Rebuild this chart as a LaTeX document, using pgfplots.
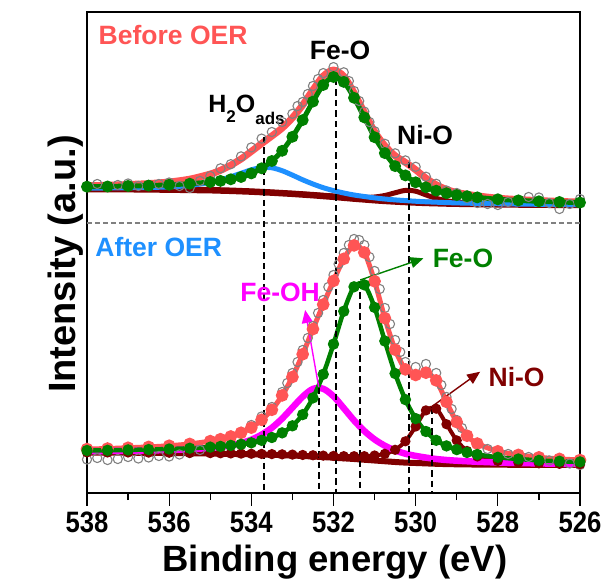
\documentclass[border=0pt]{standalone}
\usepackage{fontspec}
\setmainfont{Liberation Sans}
\usepackage{graphicx}
\usepackage{pgfplots}
\pgfplotsset{compat=1.18}
\usepackage{pgfplotstable}
\usetikzlibrary{arrows.meta}
\definecolor{salmon}{RGB}{255,85,85}
\definecolor{fgreen}{RGB}{0,128,0}
\definecolor{dred}{RGB}{128,0,0}
\definecolor{sblue}{RGB}{30,144,255}
\definecolor{mag}{RGB}{255,0,255}
\definecolor{cgray}{RGB}{128,128,128}
\newcommand{\tl}[1]{\scalebox{0.87}[1]{#1}}

\pgfplotstableread{
x bg green blue nio env
538 304.0 306.3 304.9 304.05 307.25
537.5 303.9 306.5 305.0 303.95 307.65
537 303.8 307.0 305.2 303.86 308.46
536.5 303.6 307.4 305.5 303.67 309.37
536 303.4 308.2 306.1 303.48 310.98
535.5 303.1 309.3 307.5 303.19 313.79
535 302.8 311.0 310.6 302.9 318.9
534.75 302.5 312.1 313.0 302.62 322.72
534.5 302.2 313.7 316.2 302.33 327.83
534.25 301.8 316.0 319.7 301.95 334.05
534 301.4 319.6 323.2 301.57 341.57
533.75 300.9 324.7 325.4 301.1 349.4
533.5 300.4 332.0 325.2 300.62 357.02
533.25 299.8 342.2 322.3 300.06 364.96
533 299.2 356.2 317.9 299.5 375.2
532.75 298.5 372.9 313.2 298.87 387.97
532.5 297.8 391.4 309.0 298.25 403.05
532.25 297.0 408.0 305.3 297.55 416.85
532 296.2 416.0 302.4 296.9 422.9
531.75 295.3 411.1 300.0 296.2 416.7
531.5 294.4 395.2 298.0 295.65 400.05
531.25 293.6 375.6 296.5 295.5 380.4
531 292.8 355.8 295.1 296.0 361.3
530.75 292.1 339.9 294.0 297.5 347.2
530.5 291.5 326.9 293.1 300.2 337.2
530.25 291.0 317.6 292.4 302.6 330.6
530 290.5 310.7 291.75 301.8 323.25
529.75 290.1 305.7 291.2 298.1 314.8
529.5 289.8 302.3 290.8 294.7 308.2
529.25 289.5 299.8 290.4 292.3 303.5
529 289.3 297.9 290.1 291.05 300.45
528.75 289.1 296.8 289.8 290.3 298.7
528.5 289.0 295.6 289.65 289.84 297.09
528 288.7 293.7 289.25 289.2 294.75
527.5 288.5 292.6 288.95 288.85 293.4
527 288.3 291.7 288.7 288.55 292.35
526.5 288.2 291.0 288.55 288.4 291.55
526 288.1 290.4 288.4 288.25 290.85
}\topT

\pgfplotstableread{
x bg feoh feo nio env
538 40.5 41.8 42.5 40.65 43.95
537.5 40.4 42.0 42.7 40.57 44.47
537 40.3 42.25 43.1 40.5 45.25
536.5 40.15 42.55 43.45 40.38 46.08
536 40.0 43.0 44.0 40.26 47.26
535.5 39.75 43.75 44.75 40.06 49.06
535 39.5 45.1 45.9 39.87 51.87
534.75 39.3 46.1 46.6 39.71 53.81
534.5 39.1 47.6 47.6 39.55 56.55
534.25 38.9 49.9 48.7 39.4 60.2
534 38.7 53.3 50.2 39.25 65.35
533.75 38.45 58.35 52.65 39.07 73.17
533.5 38.2 65.2 55.5 38.9 83.2
533.25 37.85 74.45 60.15 38.65 97.55
533 37.5 85.4 67.2 38.4 116.0
532.75 37.0 96.3 78.4 38.07 138.77
532.5 36.5 104.1 95.1 37.75 163.95
532.25 35.9 104.2 118.7 37.4 188.5
532 35.3 96.7 148.9 37.1 212.1
531.75 34.65 84.85 181.75 36.85 234.15
531.5 34.0 72.6 206.2 36.8 247.6
531.25 33.25 62.05 208.15 36.85 240.55
531 32.5 53.6 185.6 37.5 211.7
530.75 31.75 47.25 151.95 39.15 174.85
530.5 31.0 42.6 119.5 43.2 143.3
530.25 30.4 39.3 93.4 51.7 123.6
530 30.0 37.1 74.4 66.5 118.0
529.75 29.6 35.4 61.5 82.6 120.3
529.5 29.2 34.0 52.7 84.3 112.6
529.25 28.9 33.0 47.1 68.8 91.1
529 28.7 32.3 43.4 52.6 70.9
528.75 28.55 31.75 40.55 42.05 57.25
528.5 28.45 31.25 38.55 36.55 49.45
528 28.3 30.5 35.7 32.1 41.7
527.5 28.2 30.0 34.0 30.5 38.1
527 28.1 29.6 32.6 29.65 35.65
526.5 28.05 29.3 31.75 29.15 34.1
526 28.0 29.06 31.1 28.8 32.96
}\botT

\begin{document}
\begin{tikzpicture}
\useasboundingbox (-87pt,-91pt) rectangle (519pt,493pt);
\begin{axis}[
  at={(0,0)}, anchor=south west, scale only axis, width=493pt, height=481pt,
  x dir=reverse, xmin=526, xmax=538, ymin=0, ymax=481,
  xtick={526,528,530,532,534,536,538},
  xticklabels={\tl{526},\tl{528},\tl{530},\tl{532},\tl{534},\tl{536},\tl{538}},
  minor x tick num=1,
  ytick=\empty,
  xtick pos=lower,
  tick align=outside,
  major tick length=12.5pt, minor tick length=7pt,
  every tick/.style={black, line width=1.3pt},
  axis line style={line width=1.6pt},
  xticklabel style={font=\fontsize{29.5}{29.5}\selectfont\bfseries, inner sep=0pt, yshift=-6pt},
  xlabel={Binding energy (eV)},
  xlabel style={font=\fontsize{36.5}{36.5}\selectfont\bfseries, at={(axis description cs:0.503,-0.164)}, anchor=base},
  ylabel={Intensity (a.u.)},
  ylabel style={font=\fontsize{38}{38}\selectfont\bfseries, at={(axis description cs:-0.024,0.476)}, anchor=base},
  clip=false,
]
% data circles
\addplot[only marks, mark=o, mark size=4.6pt, cgray, mark options={line width=1.1pt}] coordinates {
(538,307) (537.75,309) (537.5,306.5) (537.25,308) (537,309.5) (536.75,307) (536.5,308) (536.25,309)
(536,310.5) (535.75,307) (535.5,305) (535.25,312) (535,317) (534.75,324.7) (534.5,328.8) (534.25,336.6)
(534,345.6) (533.75,354.4) (533.5,361) (533.25,371) (533,379.2) (532.875,387) (532.75,391) (532.625,399)
(532.5,407) (532.375,414) (532.25,419.9) (532,425.9) (531.75,420.7) (531.625,412) (531.5,402) (531.375,392)
(531.25,381.4) (531.125,371) (531,361.8) (530.75,349.2) (530.5,339.7) (530.25,332.6) (530,326.2) (529.75,316.3)
(529.5,309.2) (529.25,302.5) (529,300) (528.75,295) (528.5,290) (528.25,289) (528,288) (527.75,291)
(527.5,293) (527.25,296) (527,295.5) (526.75,290) (526.5,284) (526.25,289) (526,294)
};
\addplot[only marks, mark=o, mark size=4.6pt, cgray, mark options={line width=1.1pt}] coordinates {
(538,33.5) (537.75,35) (537.5,33) (537.25,34) (537,36) (536.75,34.5) (536.5,35.5) (536.25,37)
(536,36.5) (535.75,38.5) (535.5,40) (535.25,43) (535,46) (534.75,50) (534.5,55.5) (534.25,61)
(534,68) (533.75,76.5) (533.5,86) (533.25,101) (533.125,110) (533,120) (532.875,131) (532.75,143)
(532.625,155) (532.5,167) (532.375,180) (532.25,193) (532.125,206) (532,218) (531.875,229) (531.75,240)
(531.625,248) (531.5,254) (531.375,253) (531.25,248) (531.125,236) (531,222) (530.875,204) (530.75,185)
(530.625,169) (530.5,153) (530.375,141) (530.25,131) (530,126) (529.75,129) (529.5,120) (529.375,108)
(529.25,96) (529.125,84) (529,73) (528.875,65) (528.75,58) (528.5,49) (528.25,44) (528,40.5)
(527.75,39) (527.5,36.5) (527.25,36) (527,34) (526.75,32.5) (526.5,30) (526.25,29.5) (526,28)
};
% top panel
\addplot[salmon, line width=7pt, smooth] table[x=x,y=env]{\topT};
\addplot[dred, line width=6.5pt, smooth] table[x=x,y=bg]{\topT};
\addplot[dred, line width=5pt, smooth] table[x=x,y=nio]{\topT};
\addplot[sblue, line width=5pt, smooth] table[x=x,y=blue]{\topT};
\addplot[fgreen, line width=5pt, smooth, mark=*, mark size=3.3pt] table[x=x,y=green]{\topT};
% bottom panel
\addplot[salmon, line width=5pt, smooth, mark=*, mark size=3.7pt] table[x=x,y=env]{\botT};
\addplot[dred, line width=6pt, smooth] table[x=x,y=bg]{\botT};
\addplot[dred, line width=4pt, smooth, mark=*, mark size=3pt] table[x=x,y=nio]{\botT};
\addplot[mag, line width=6.5pt, smooth] table[x=x,y=feoh]{\botT};
\addplot[fgreen, line width=4.5pt, smooth, mark=*, mark size=3.3pt] table[x=x,y=feo]{\botT};
% guide lines
\draw[cgray, line width=1.5pt, dash pattern=on 5pt off 3pt] (axis cs:538,270) -- (axis cs:526,270);
\draw[black, line width=2pt, dash pattern=on 6.5pt off 4pt] (axis cs:533.7,356) -- (axis cs:533.7,0);
\draw[black, line width=2pt, dash pattern=on 6.5pt off 4pt] (axis cs:531.93,414) -- (axis cs:531.93,0);
\draw[black, line width=2pt, dash pattern=on 6.5pt off 4pt] (axis cs:530.15,331) -- (axis cs:530.15,0);
\draw[black, line width=2pt, dash pattern=on 6.5pt off 4pt] (axis cs:532.36,105) -- (axis cs:532.36,0);
\draw[black, line width=2pt, dash pattern=on 6.5pt off 4pt] (axis cs:531.35,211) -- (axis cs:531.35,0);
\draw[black, line width=2pt, dash pattern=on 6.5pt off 4pt] (axis cs:529.6,86) -- (axis cs:529.6,0);
% arrows
\draw[fgreen, line width=1.4pt, -{Triangle[length=13pt,width=11pt]}] (axis cs:531.35,213) -- (axis cs:529.81,234.7);
\draw[mag, line width=1.4pt, -{Triangle[length=13pt,width=11pt]}] (axis cs:532.36,106) -- (axis cs:532.69,183);
\draw[dred, line width=1.4pt, -{Triangle[length=13pt,width=11pt]}] (axis cs:529.61,86.3) -- (axis cs:528.43,121.3);
% labels
\node[anchor=west, text=salmon, font=\fontsize{26.5}{26.5}\selectfont\bfseries] at (axis cs:537.8,458) {Before OER};
\node[anchor=west, text=sblue, font=\fontsize{26.5}{26.5}\selectfont\bfseries] at (axis cs:537.88,246) {After OER};
\node[font=\fontsize{26.5}{26.5}\selectfont\bfseries] at (axis cs:531.84,443) {Fe-O};
\node[font=\fontsize{26.5}{26.5}\selectfont\bfseries] at (axis cs:529.77,358) {Ni-O};
\node[anchor=base west, inner sep=0pt, font=\fontsize{25}{25}\selectfont\bfseries] at (axis cs:535.05,380) {H\raisebox{-10pt}{\fontsize{17}{17}\selectfont 2}O\raisebox{-12pt}{\fontsize{17}{17}\selectfont ads}};
\node[anchor=west, text=fgreen, font=\fontsize{26.5}{26.5}\selectfont\bfseries] at (axis cs:529.67,235) {Fe-O};
\node[text=mag, font=\fontsize{26.5}{26.5}\selectfont\bfseries] at (axis cs:533.30,201) {Fe-OH};
\node[anchor=west, text=dred, font=\fontsize{26.5}{26.5}\selectfont\bfseries] at (axis cs:528.31,116) {Ni-O};
\end{axis}
\end{tikzpicture}
\end{document}
